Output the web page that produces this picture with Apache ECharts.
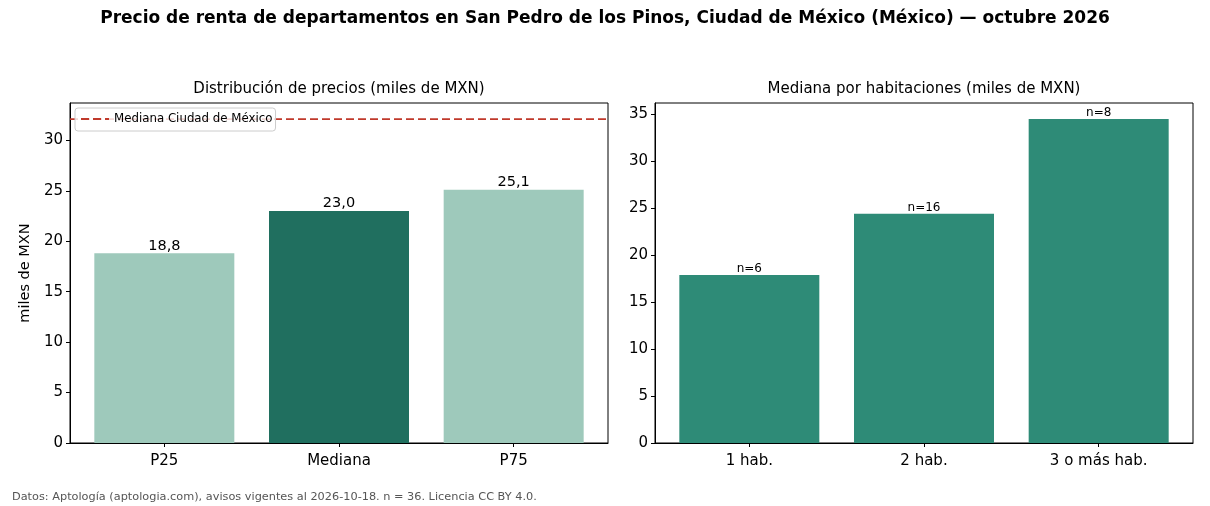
<!DOCTYPE html>
<html>
<head>
<meta charset="utf-8">
<script src="https://cdn.jsdelivr.net/npm/echarts@6/dist/echarts.min.js"></script>
<style>
  html, body { margin: 0; padding: 0; background: #fff; }
  #chart { width: 1210px; height: 506px; }
</style>
</head>
<body>
<div id="chart"></div>
<script>
// datos del gráfico
var categoriasDist = ['P25', 'Mediana', 'P75'];
var valoresDist = [18.8, 23.0, 25.1];
var medianaCdmx = 32.1;
var categoriasHab = ['1 hab.', '2 hab.', '3 o más hab.'];
var valoresHab = [17.9, 24.4, 34.5];
var conteosHab = [6, 16, 8];
var ticksIzq = [0, 5, 10, 15, 20, 25, 30];
var ticksDer = [0, 5, 10, 15, 20, 25, 30, 35];

var fuente = 'DejaVu Sans';
var xMin = -0.54, xMax = 2.54;
var colorClaro = '#9ec9bb';
var colorOscuro = '#206f5f';
var colorHab = '#2e8b77';

function coma(v) {
    return v.toFixed(1).replace('.', ',');
}

function ejeX(idx, categorias) {
    var pos = categorias.map(function (c, i) { return i; });
    return {
        type: 'value', gridIndex: idx, min: xMin, max: xMax,
        axisLine: { show: true, onZero: false, lineStyle: { color: '#000', width: 1 } },
        axisTick: { show: true, length: 4, customValues: pos, lineStyle: { color: '#000' } },
        axisLabel: {
            customValues: pos, margin: 11, color: '#000', fontSize: 15, fontFamily: fuente,
            formatter: function (v) { return categorias[Math.round(v)]; }
        },
        splitLine: { show: false }
    };
}

function ejeY(idx, max, ticks, nombre) {
    return {
        type: 'value', gridIndex: idx, min: 0, max: max,
        name: nombre, nameLocation: 'middle', nameGap: 37,
        nameTextStyle: { color: '#000', fontSize: 14.5, fontFamily: fuente },
        axisLine: { show: true, onZero: false, lineStyle: { color: '#000', width: 1 } },
        axisTick: { show: true, length: 4, customValues: ticks, lineStyle: { color: '#000' } },
        axisLabel: { customValues: ticks, margin: 7, color: '#000', fontSize: 15, fontFamily: fuente },
        splitLine: { show: false }
    };
}

var chart = echarts.init(document.getElementById('chart'), null, { renderer: 'canvas' });

var option = {
    animation: false,
    backgroundColor: '#fff',
    title: [
        {
            text: 'Precio de renta de departamentos en San Pedro de los Pinos, Ciudad de México (México) — octubre 2026',
            left: 'center', top: 10, padding: 0,
            textStyle: { fontFamily: fuente, fontSize: 17, fontWeight: 'bold', color: '#000' }
        },
        {
            text: 'Distribución de precios (miles de MXN)',
            left: 339, top: 82, padding: 0, textAlign: 'center',
            textStyle: { fontFamily: fuente, fontSize: 15, fontWeight: 'normal', color: '#000' }
        },
        {
            text: 'Mediana por habitaciones (miles de MXN)',
            left: 924, top: 82, padding: 0, textAlign: 'center',
            textStyle: { fontFamily: fuente, fontSize: 15, fontWeight: 'normal', color: '#000' }
        },
        {
            text: 'Datos: Aptología (aptologia.com), avisos vigentes al 2026-10-18. n = 36. Licencia CC BY 4.0.',
            left: 12, top: 492, padding: 0,
            textStyle: { fontFamily: fuente, fontSize: 11.3, fontWeight: 'normal', color: '#555' }
        }
    ],
    legend: {
        data: ['Mediana Ciudad de México'],
        left: 75, top: 108, orient: 'vertical',
        padding: [5, 3, 6, 5],
        itemWidth: 28, itemHeight: 10, itemGap: 5,
        itemStyle: { opacity: 0 },
        backgroundColor: 'rgba(255,255,255,0.8)',
        borderColor: '#cccccc', borderWidth: 1, borderRadius: 3,
        textStyle: { fontFamily: fuente, fontSize: 11.8, color: '#000' }
    },
    grid: [
        { left: 70, top: 103, width: 538, height: 340, show: true, borderColor: '#000', borderWidth: 1, backgroundColor: 'transparent' },
        { left: 655, top: 103, width: 538, height: 340, show: true, borderColor: '#000', borderWidth: 1, backgroundColor: 'transparent' }
    ],
    xAxis: [ejeX(0, categoriasDist), ejeX(1, categoriasHab)],
    yAxis: [ejeY(0, 33.7, ticksIzq, 'miles de MXN'), ejeY(1, 36.2, ticksDer, '')],
    series: [
        {
            type: 'bar', xAxisIndex: 0, yAxisIndex: 0, barWidth: 140,
            data: valoresDist.map(function (v, i) {
                return { value: [i, v], itemStyle: { color: i === 1 ? colorOscuro : colorClaro } };
            }),
            label: {
                show: true, position: 'top', distance: 0,
                fontFamily: fuente, fontSize: 14.5, color: '#000',
                formatter: function (p) { return coma(p.value[1]); }
            }
        },
        {
            name: 'Mediana Ciudad de México',
            type: 'line', xAxisIndex: 0, yAxisIndex: 0,
            symbol: 'none', z: 3,
            data: [[xMin, medianaCdmx], [xMax, medianaCdmx]],
            itemStyle: { color: '#c0392b' },
            lineStyle: { color: '#c0392b', width: 1.6, type: [8, 4] }
        },
        {
            type: 'bar', xAxisIndex: 1, yAxisIndex: 1, barWidth: 140,
            data: valoresHab.map(function (v, i) { return [i, v]; }),
            itemStyle: { color: colorHab },
            label: {
                show: true, position: 'top', distance: 0,
                fontFamily: fuente, fontSize: 12, color: '#000',
                formatter: function (p) { return 'n=' + conteosHab[p.dataIndex]; }
            }
        }
    ]
};

chart.setOption(option);
</script>
</body>
</html>
